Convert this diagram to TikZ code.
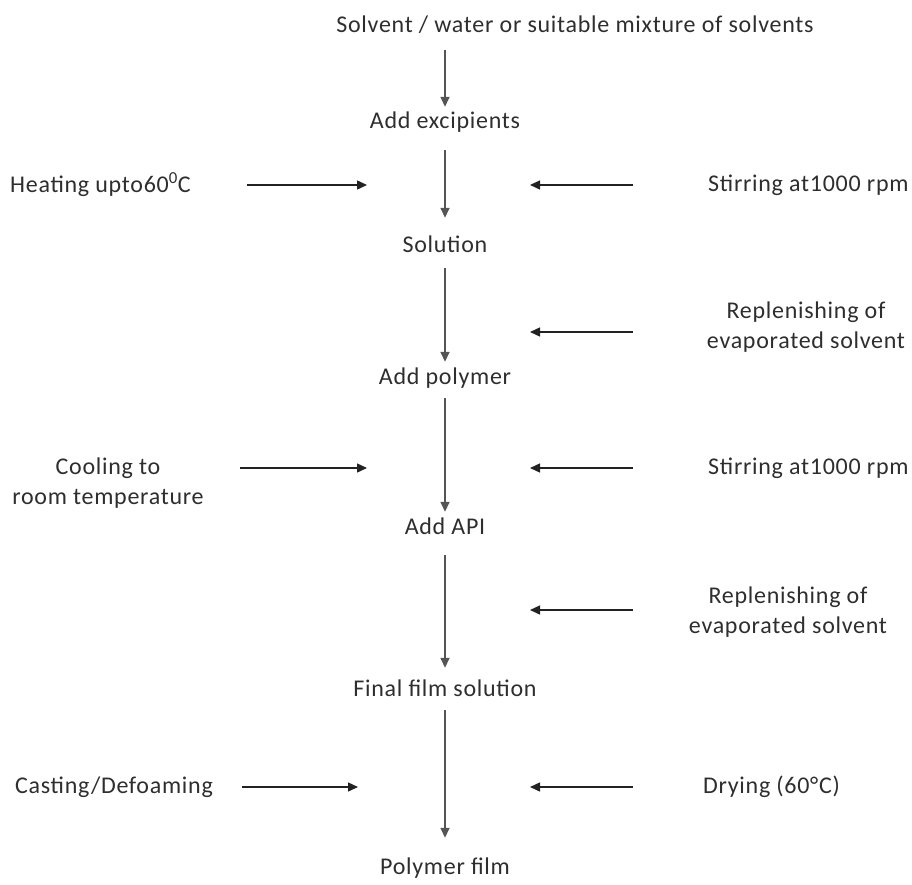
\documentclass[tikz,border=0pt]{standalone}
\usepackage{fontspec}
\setmainfont{Carlito}[LetterSpace=3]
\usetikzlibrary{arrows.meta}
\definecolor{txt}{HTML}{2E2E2E}
\definecolor{vline}{HTML}{555555}
\definecolor{hline}{HTML}{222222}
\tikzset{
  lbl/.style={font=\fontsize{24}{30}\selectfont, text=txt, inner sep=0pt},
  central/.style={lbl, text height=17pt, text depth=5pt, anchor=center},
  side/.style={lbl, align=center},
  varr/.style={draw=vline, line width=1.5pt, -{Triangle[length=10pt,width=9pt]}},
  harr/.style={draw=hline, line width=1.4pt, -{Triangle[length=10pt,width=9pt]}},
}
\begin{document}
\begin{tikzpicture}[x=1pt,y=1pt]
\useasboundingbox (0,0) rectangle (912,-885);
% central chain
\node[central] (s0) at (575,-27) {Solvent / water or suitable mixture of solvents};
\node[central] (s1) at (445,-123) {Add excipients};
\node[central] (s2) at (445,-246) {Solution};
\node[central] (s3) at (445,-378) {Add polymer};
\node[central] (s4) at (445,-528) {Add API};
\node[central] (s5) at (445,-690) {Final film solution};
\node[central] (s6) at (445,-868) {Polymer film};
\draw[varr, shorten <=12pt, shorten >=5pt] (s0.south -| s1) -- (s1.north);
\draw[varr, shorten <=16pt, shorten >=17pt] (s1) -- (s2);
\draw[varr, shorten <=11pt, shorten >=5pt] (s2) -- (s3);
\draw[varr, shorten <=9pt, shorten >=5pt] (s3) -- (s4);
\draw[varr, shorten <=16pt, shorten >=11pt] (s4) -- (s5);
\draw[varr, shorten <=9pt, shorten >=19pt] (s5) -- (s6);
% side labels
\node[side, anchor=west] (heat) at (10,-185) {Heating upto60\textsuperscript{0}C};
\node[side, anchor=west] (stir1) at (708,-185) {Stirring at1000 rpm};
\node[side] (rep1) at (806,-327) {Replenishing of\\evaporated solvent};
\node[side] (cool) at (108,-483) {Cooling to\\room temperature};
\node[side, anchor=west] (stir2) at (708,-468) {Stirring at1000 rpm};
\node[side] (rep2) at (788,-612) {Replenishing of\\evaporated solvent};
\node[side, anchor=west] (cast) at (15,-787) {Casting/Defoaming};
\node[side, anchor=west] (dry) at (703,-787) {Drying (60°C)};
% side arrow end points
\coordinate (heatA) at (247,-185); \coordinate (heatB) at (367,-185);
\coordinate (stir1A) at (633,-185); \coordinate (stir1B) at (530,-185);
\coordinate (rep1A) at (633,-332); \coordinate (rep1B) at (530,-332);
\coordinate (coolA) at (240,-468); \coordinate (coolB) at (367,-468);
\coordinate (stir2A) at (633,-468); \coordinate (stir2B) at (530,-468);
\coordinate (rep2A) at (633,-610); \coordinate (rep2B) at (530,-610);
\coordinate (castA) at (242,-787); \coordinate (castB) at (358,-787);
\coordinate (dryA) at (633,-787); \coordinate (dryB) at (530,-787);
\draw[harr] (heatA) -- (heatB);
\draw[harr] (stir1A) -- (stir1B);
\draw[harr] (rep1A) -- (rep1B);
\draw[harr] (coolA) -- (coolB);
\draw[harr] (stir2A) -- (stir2B);
\draw[harr] (rep2A) -- (rep2B);
\draw[harr] (castA) -- (castB);
\draw[harr] (dryA) -- (dryB);
\end{tikzpicture}
\end{document}
